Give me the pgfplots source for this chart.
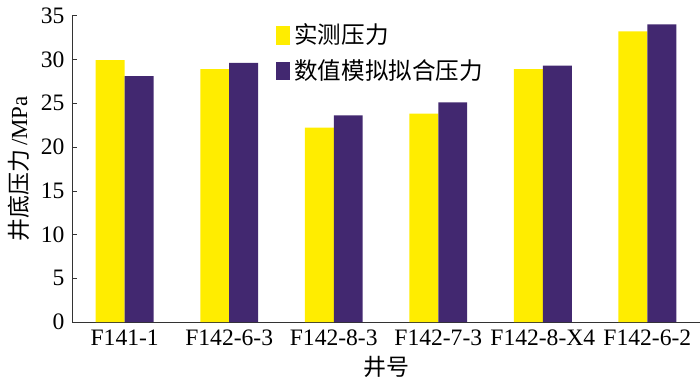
\documentclass[border=0pt]{standalone}
\usepackage{fontspec}
\setmainfont{Liberation Serif}
\newfontfamily\cjk{Noto Sans CJK SC}
\usepackage{pgfplots}
\pgfplotsset{compat=1.18}
\definecolor{cyel}{RGB}{255,237,0}
\definecolor{cpur}{RGB}{66,40,112}
\begin{document}
\fontsize{11.5}{13.5}\selectfont
\begin{tikzpicture}
\begin{axis}[
  scale only axis,
  width=314pt, height=153.5pt,
  xmin=-0.5, xmax=5.5,
  ymin=0, ymax=35,
  ytick={0,5,...,35},
  axis lines=left,
  axis line style={-, thin, black!80},
  ybar=0pt,
  bar width=14.5pt,
  xtick={0,...,5},
  xticklabels={F141-1,F142-6-3,F142-8-3,F142-7-3,F142-8-X4,F142-6-2},
  x tick style={draw=none},
  minor xtick={0.5,1.5,2.5,3.5,4.5,5.5},
  minor x tick style={black!80},
  minor tick length=2.5pt,
  major tick length=2.5pt,
  y tick style={black!80},
  tick align=inside,
  tick label style={font=\fontsize{11.8}{13.5}\selectfont},
  /pgf/number format/assume math mode=true,
  ylabel={{\cjk 井底压力}\,/MPa},
  xlabel={{\cjk 井号}},
  label style={font=\fontsize{11.5}{13.5}\selectfont},
  xlabel style={yshift=3pt},
  ylabel style={yshift=-2pt},
  legend style={at={(0.315,1.0)}, anchor=north west, draw=none, fill=none,
    font=\fontsize{11.8}{13.5}\selectfont, row sep=2pt},
  legend cell align=left,
  legend image code/.code={\fill[#1] (0pt,-4.7pt) rectangle (7pt,4.7pt);},
  clip=false,
]
\addplot[draw=none, fill=cyel] coordinates {(0,29.9) (1,28.9) (2,22.2) (3,23.8) (4,28.9) (5,33.2)};
\addplot[draw=none, fill=cpur] coordinates {(0,28.1) (1,29.6) (2,23.6) (3,25.1) (4,29.3) (5,34.0)};
\legend{{\cjk 实测压力},{\cjk 数值模拟拟合压力}}
\end{axis}
\end{tikzpicture}
\end{document}
